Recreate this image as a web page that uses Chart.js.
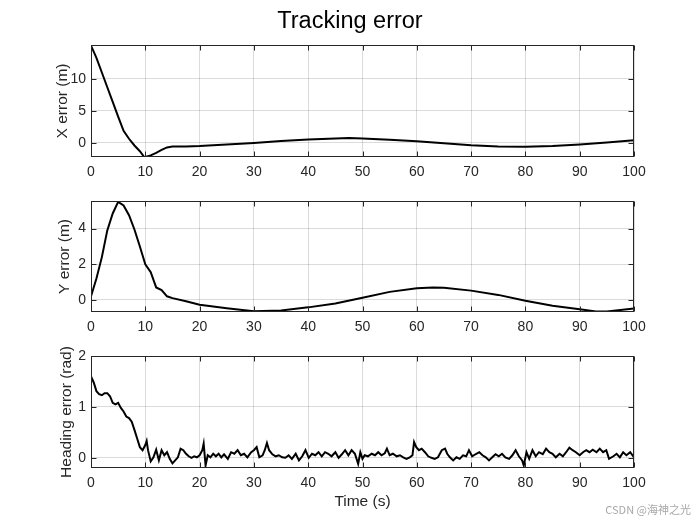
<!DOCTYPE html>
<html><head><meta charset="utf-8">
<script src="https://cdn.jsdelivr.net/npm/chart.js@4"></script>
<style>
html,body{margin:0;padding:0;background:#fff;}
#wrap{position:relative;width:700px;height:525px;overflow:hidden;background:#fff;}
canvas{position:absolute;left:0;}
#wm{position:absolute;right:9px;top:501px;font:11px "Noto Sans CJK SC","Liberation Sans",sans-serif;color:#a8a8a8;white-space:nowrap;}
</style></head><body>
<div id="wrap">
<canvas id="c1" width="700" height="187" style="top:0px"></canvas>
<canvas id="c2" width="700" height="155" style="top:187px"></canvas>
<canvas id="c3" width="700" height="183" style="top:342px"></canvas>
<div id="wm">CSDN @海神之光</div>
</div>
<script>
// ---- data ----
const timeTicks = [0,10,20,30,40,50,60,70,80,90,100];

const xErrTime = [0,1,2,3,4,5,6,7,8,9,9.8,10,11,12,13,14,15,17.5,20,25,30,35,40,45,47.5,50,55,60,65,70,75,80,85,90,95,100];
const xErrVal  = [15.2,13.3,11.0,8.7,6.4,4.1,1.9,0.65,-0.4,-1.3,-2.2,-2.2,-1.95,-1.55,-1.1,-0.7,-0.55,-0.55,-0.5,-0.25,0,0.3,0.55,0.7,0.75,0.7,0.5,0.25,-0.05,-0.35,-0.55,-0.6,-0.5,-0.25,0.05,0.4];
const xErrTicks = [0,5,10];

const yErrTime = [0,1,2,3,4,5,6,7,8,9,10,11,12,13,14,15,17.5,20,25,30,35,40,45,50,55,60,63,65,70,75,80,85,90,93,95,100];
const yErrVal  = [0.2,1.2,2.4,3.9,4.85,5.5,5.3,4.75,3.95,3.0,2.0,1.55,0.7,0.55,0.2,0.1,-0.08,-0.27,-0.47,-0.64,-0.6,-0.42,-0.2,0.12,0.45,0.65,0.7,0.68,0.52,0.28,-0.05,-0.33,-0.52,-0.65,-0.65,-0.48];
const yErrTicks = [0,2,4];

const headTime = [0,0.5,1,1.5,2,2.5,3,3.5,4,4.5,5,5.5,6,6.5,7,7.5,8,8.5,9,9.5,10,10.25,10.5,11,11.5,12,12.5,13,13.5,14,14.5,15,15.5,16,16.5,17,17.5,18,18.5,19,19.5,20,20.5,20.75,21.1,21.5,22,22.5,23,23.5,24,24.5,
25.2,25.8,26.4,27,27.6,28.2,28.8,29.5,30,30.5,31,31.6,32,32.4,32.8,33.4,34,34.6,35.2,35.8,36.4,37,37.7,38.3,38.9,39.5,40.1,40.7,41.3,41.9,42.5,43.1,43.7,44.3,45,45.6,46.2,46.8,47.4,48,48.6,49.2,49.6,
50,50.4,51,51.7,52.3,52.9,53.5,54.1,54.5,55,55.6,56.3,56.9,57.5,58.1,58.7,59.2,59.5,59.9,60.4,60.9,61.5,62.1,62.7,63.3,63.9,64.6,65.2,65.6,66.1,66.7,67.3,67.9,68.5,69.1,69.6,70.2,70.8,71.5,72.1,72.7,73.3,73.9,74.5,
75.1,75.7,76.3,77,77.6,78.2,78.8,79.4,79.7,80.2,80.7,81.3,81.9,82.5,83.2,83.8,84.4,85,85.6,86.3,86.9,87.5,88.1,88.7,89.3,90,90.6,91.2,91.8,92.4,93.1,93.7,94.3,94.9,95.4,96.2,96.8,97.4,98,98.6,99.3,100];
const headVal = [1.6,1.48,1.31,1.25,1.23,1.27,1.27,1.21,1.08,1.05,1.08,0.98,0.91,0.81,0.78,0.71,0.55,0.38,0.21,0.15,0.25,0.33,0.15,-0.07,0.01,0.16,-0.05,0.15,0.05,0.11,-0.02,-0.11,-0.05,0.01,0.18,0.15,0.08,0.03,0.0,0.03,0.01,0.05,0.15,0.28,-0.15,0.05,0.01,0.08,0.03,0.08,0.01,0.07,
-0.02,0.11,0.08,0.15,0.05,0.08,0.01,0.11,0.15,0.21,0.01,0.05,0.15,0.29,0.15,0.07,0.03,0.05,0.01,0,0.05,-0.02,0.08,-0.05,0.03,0.15,0,0.08,0.05,0.11,0.03,0.11,0.08,0.03,0.11,0,0.07,0.15,0.05,0.15,0.08,-0.12,0.11,
-0.02,0.05,0.03,0.08,0.05,0.11,0.05,0.09,0.18,0.05,0.08,0.03,0.05,0.01,-0.02,0.01,0.05,0.31,0.21,0.15,0.18,0.11,0.03,0,-0.02,0.01,0.15,0.18,0.08,0.01,-0.05,0.01,-0.02,0.05,0.03,0.15,0.03,0.07,0.11,0.05,0.01,-0.05,0.01,0.07,
0.03,0.08,0.01,-0.02,0.05,0.15,0.03,-0.05,-0.15,0.11,-0.02,0.15,0.03,0.11,0.07,0.18,0.11,0.08,0.01,0.08,0.03,0.11,0.2,0.15,0.11,0.05,0.11,0.15,0.11,0.16,0.11,0.18,0.11,0.15,-0.02,0.03,0.08,0.01,0.11,0.05,0.11,0.01];
const headTicks = [0,1,2];

// ---- styling helpers ----
const FONT = '"Liberation Sans", Arial, Helvetica, sans-serif';
const AXC = '#262626';
const GRIDC = 'rgba(0,0,0,0.14)';

const framePlugin = {
  id: 'frame',
  afterDraw(chart) {
    const {ctx, chartArea: a, scales} = chart;
    ctx.save();
    ctx.strokeStyle = AXC;
    ctx.lineWidth = 1;
    const L = Math.round(a.left) + 0.5, R = Math.round(a.right) - 0.5;
    const T = Math.round(a.top) + 0.5, B = Math.round(a.bottom) - 0.5;
    ctx.strokeRect(L, T, R - L, B - T);
    const tl = 5;
    ctx.beginPath();
    scales.x.ticks.forEach(t => {
      const p = Math.round(scales.x.getPixelForValue(t.value)) + 0.5;
      ctx.moveTo(p, B); ctx.lineTo(p, B - tl);
      ctx.moveTo(p, T); ctx.lineTo(p, T + tl);
    });
    scales.y.ticks.forEach(t => {
      const p = Math.round(scales.y.getPixelForValue(t.value)) + 0.5;
      ctx.moveTo(L, p); ctx.lineTo(L + tl, p);
      ctx.moveTo(R, p); ctx.lineTo(R - tl, p);
    });
    ctx.stroke();
    ctx.restore();
  }
};

function makeChart(id, times, vals, yTicks, yMin, yMax, yTitle, yTitlePad, opts) {
  const pts = times.map((t, i) => ({x: t, y: vals[i]}));
  return new Chart(document.getElementById(id), {
    type: 'line',
    data: { datasets: [{ data: pts, borderColor: '#000', borderWidth: 2, pointRadius: 0, tension: 0, fill: false }] },
    options: {
      responsive: false,
      animation: false,
      events: [],
      layout: { padding: { top: opts.padTop, right: 0, left: 0, bottom: 0 } },
      plugins: {
        legend: { display: false },
        tooltip: { enabled: false },
        title: opts.title ? {
          display: true, text: opts.title, color: '#000',
          font: { family: FONT, size: 23.5, weight: 'normal', lineHeight: 1 },
          padding: { top: 10, bottom: 11.5 }
        } : { display: false }
      },
      scales: {
        x: {
          type: 'linear', min: 0, max: 100,
          afterBuildTicks: s => { s.ticks = timeTicks.map(v => ({value: v})); },
          afterFit: s => { s.height = opts.xHeight; },
          grid: { color: GRIDC, drawTicks: false },
          border: { display: false },
          ticks: { color: AXC, padding: 7, maxRotation: 0, font: { family: FONT, size: 14 } },
          title: opts.xTitle ? { display: true, text: opts.xTitle, color: AXC, font: { family: FONT, size: 15.5 }, padding: { top: 0, bottom: 14 } } : { display: false }
        },
        y: {
          type: 'linear', min: yMin, max: yMax,
          afterBuildTicks: s => { s.ticks = yTicks.map(v => ({value: v})); },
          afterFit: s => { s.width = 91; },
          grid: { color: GRIDC, drawTicks: false },
          border: { display: false },
          ticks: { color: AXC, padding: 5, font: { family: FONT, size: 14 } },
          title: { display: true, text: yTitle, color: AXC, font: { family: FONT, size: 15.5 }, padding: { top: yTitlePad, bottom: 0 } }
        },
        yRight: {
          type: 'linear', position: 'right', display: true,
          afterFit: s => { s.width = 66; },
          grid: { display: false, drawTicks: false },
          border: { display: false },
          ticks: { display: false }
        }
      }
    },
    plugins: [framePlugin]
  });
}

makeChart('c1', xErrTime, xErrVal, xErrTicks, -2.2, 15.3, 'X error (m)', 53, { padTop: 0, xHeight: 30, title: 'Tracking error' });
makeChart('c2', yErrTime, yErrVal, yErrTicks, -0.68, 5.55, 'Y error (m)', 55, { padTop: 14, xHeight: 30 });
makeChart('c3', headTime, headVal, headTicks, -0.2, 2, 'Heading error (rad)', 57, { padTop: 14, xHeight: 57, xTitle: 'Time (s)' });
</script>
</body></html>
